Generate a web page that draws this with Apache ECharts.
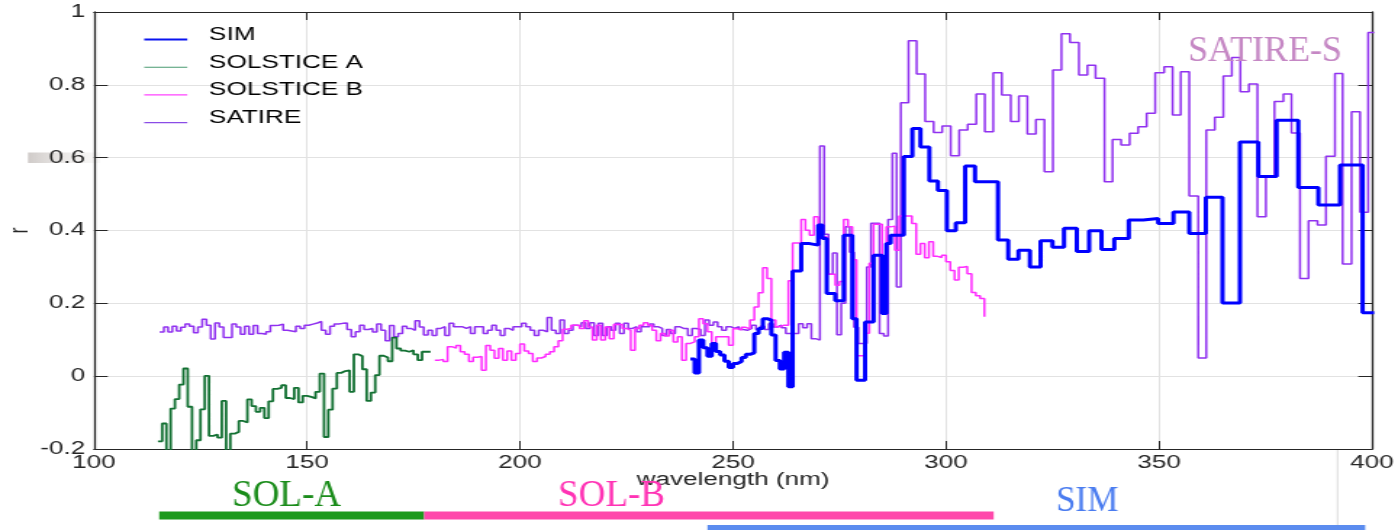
<!DOCTYPE html>
<html>
<head>
<meta charset="utf-8">
<script src="https://cdn.jsdelivr.net/npm/echarts@6.0.0/dist/echarts.min.js"></script>
<style>
html,body{margin:0;padding:0;background:#fff;}
#wrap{width:1398px;height:530px;overflow:hidden;position:relative;background:#fff;}
#c{width:964px;height:530px;transform-origin:0 0;}
</style>
</head>
<body>
<div id="wrap"><div id="c"></div></div>
<script>
// ---------------- data ----------------
const legendNames = ['SIM', 'SOLSTICE A', 'SOLSTICE B', 'SATIRE'];
const xTicks = [100, 150, 200, 250, 300, 350, 400];

// SOLSTICE A: 1-nm bins starting at 115 nm (last entry = end of last bin)
const solAStart = 115;
const solAY = [-0.179,-0.13,-0.25,-0.089,-0.063,-0.023,0.021,-0.084,-0.25,-0.176,
  -0.091,0.001,-0.164,-0.16,-0.169,-0.068,-0.25,-0.158,-0.153,-0.123,
  -0.127,-0.064,-0.082,-0.098,-0.087,-0.115,-0.069,-0.035,-0.032,-0.025,
  -0.06,-0.063,-0.032,-0.072,-0.054,-0.057,-0.061,-0.043,0.007,-0.167,
  -0.092,-0.034,0.009,0.014,0.016,-0.043,0.06,0.055,0.019,-0.068,
  -0.045,0.003,0.056,0.051,0.041,0.106,0.076,0.07,0.067,0.071,
  0.06,0.044,0.067,0.067,0.067];

// SOLSTICE B: 1-nm bins starting at 180 nm
const solBStart = 180;
const solBY = [0.044,0.046,0.04,0.081,0.077,0.084,0.067,0.06,0.04,0.052,
  0.054,0.016,0.084,0.071,0.049,0.076,0.044,0.069,0.044,0.062,
  0.088,0.069,0.062,0.04,0.05,0.054,0.06,0.067,0.081,0.097,
  0.129,0.131,0.14,0.14,0.131,0.152,0.135,0.099,0.14,0.099,
  0.135,0.103,0.142,0.142,0.131,0.126,0.071,0.131,0.14,0.147,
  0.14,0.126,0.097,0.117,0.11,0.126,0.094,0.108,0.044,0.09,
  0.094,0.108,0.158,0.144,0.122,0.08,0.108,0.108,0.108,0.085,
  0.13,0.127,0.134,0.13,0.154,0.19,0.229,0.298,0.268,0.154,
  0.136,0.14,0.14,0.262,0.366,0.366,0.43,0.401,0.387,0.438,
  0.383,0.383,0.28,0.28,0.25,0.26,0.43,0.41,0.32,0.056,
  0.056,0.118,0.31,0.417,0.417,0.172,0.41,0.412,0.346,0.44,
  0.44,0.44,0.419,0.335,0.364,0.325,0.369,0.329,0.326,0.332,
  0.314,0.29,0.264,0.299,0.301,0.281,0.23,0.221,0.213,0.163];

// SATIRE: 1-nm bins from 115.4 nm, then ~2-nm bins
const satFineStart = 115.4;
const satFineY = [0.121,0.135,0.121,0.137,0.124,0.134,0.143,0.137,0.119,0.135,
  0.156,0.14,0.102,0.146,0.135,0.106,0.106,0.143,0.135,0.115,
  0.137,0.115,0.139,0.117,0.115,0.122,0.139,0.14,0.143,0.126,
  0.124,0.122,0.137,0.131,0.14,0.143,0.146,0.15,0.126,0.115,
  0.137,0.143,0.145,0.146,0.128,0.108,0.122,0.14,0.128,0.131,
  0.121,0.143,0.126,0.097,0.139,0.108,0.117,0.137,0.131,0.126,
  0.152,0.135,0.113,0.126,0.112,0.131,0.136,0.112,0.145,0.136,
  0.136,0.131,0.136,0.117,0.136,0.136,0.117,0.126,0.14,0.126,
  0.112,0.131,0.126,0.136,0.136,0.145,0.136,0.126,0.112,0.126,
  0.122,0.161,0.126,0.117,0.154,0.117,0.126,0.14,0.136,0.147,
  0.131,0.147,0.112,0.145,0.112,0.136,0.126,0.145,0.117,0.145,
  0.131,0.136,0.122,0.136,0.136,0.143,0.136,0.131,0.112,0.128,
  0.117,0.136,0.131,0.131,0.112,0.131,0.128,0.112,0.154,0.14,
  0.149,0.136,0.126,0.136,0.131,0.136,0.128,0.126,0.131,0.14,
  0.128,0.137,0.128,0.144,0.135,0.14,0.133,0.117,0.117,0.117,
  0.144,0.133,0.144,0.103,0.099,0.632,0.39,0.28,0.338,0.114,
  0.2,0.41,0.34,0.134,0.09,0.09,0.3,0.42,0.42,0.117,
  0.11,0.43,0.612,0.245];
const satCoarseX = [289.4,291.2,293.1,295.1,297.1,299.1,301.1,303.1,305.1,307.1,
  309.1,311.1,313.1,315.2,317.1,319.1,321.1,323.1,325.1,327.1,
  329.1,331.2,333.2,335.1,337.2,339.1,341.1,343.1,345.1,347.1,
  349.1,351.2,353.2,355.1,357.1,359.2,361.1,363.1,365.1,367.1,
  369.1,371.1,373.1,375.1,377.1,379.2,381.1,383.1,385.1,387.2,
  389.2,391.3,393.1,395.2,397.2,399.1,400.5];
const satCoarseY = [0.751,0.921,0.83,0.699,0.669,0.687,0.605,0.676,0.692,0.775,
  0.671,0.833,0.772,0.699,0.769,0.665,0.705,0.561,0.841,0.94,
  0.916,0.827,0.854,0.818,0.534,0.65,0.635,0.667,0.685,0.722,
  0.833,0.85,0.717,0.836,0.495,0.05,0.676,0.711,0.824,0.875,
  0.781,0.802,0.438,0.546,0.754,0.775,0.668,0.268,0.427,0.415,
  0.604,0.831,0.308,0.726,0.45,0.944,0.944];

// SIM: 1-nm bins from 240 nm, then coarse bins
const simFineStart = 240;
const simFineY = [0.047,0.009,0.099,0.078,0.055,0.09,0.068,0.058,0.041,0.024,
  0.035,0.04,0.051,0.06,0.064,0.117,0.131,0.158,0.154,0.113,
  0.043,0.02,0.066,-0.029,0.289,0.289,0.364,0.364,0.362,0.36,
  0.415,0.378,0.227,0.227,0.207,0.207,0.387,0.387,0.158,-0.011,
  -0.011,0.149,0.149,0.332,0.332,0.172,0.364,0.387,0.387,0.387];
const simCoarseX = [290.1,292.1,294,296.1,298.1,300.2,302.3,304.5,306.8,312.2,
  314.6,317,319.7,322.2,325,327.7,330.7,333.6,336.5,339.5,
  342.9,346.3,349.8,353.4,357.1,361,364.9,369,373.3,377.6,
  382.7,387.4,392.5,397.8,400.5];
const simCoarseY = [0.603,0.68,0.629,0.536,0.51,0.399,0.421,0.577,0.534,0.374,
  0.321,0.346,0.3,0.372,0.354,0.406,0.342,0.399,0.348,0.378,
  0.429,0.433,0.419,0.451,0.392,0.491,0.201,0.643,0.548,0.703,
  0.518,0.47,0.58,0.174,0.174];

// instrument ranges shown under the axis
const bandNames = ['SOL-A', 'SOL-B', 'SIM'];
const bandStart = [115.3, 177.5, 244];
const bandEnd = [177.5, 311.2, 398.4];

// ---------------- layout / build ----------------
const S = 1398 / 964;   // horizontal stretch of the original figure
document.getElementById('c').style.transform = 'scaleX(' + S + ')';
const FF = '"Liberation Sans", Arial, sans-serif';
const SERIF = '"Liberation Serif", "Times New Roman", serif';

function regular(start, ys) { return ys.map((y, i) => [start + i, y]); }
function pairs(xs, ys) { return xs.map((x, i) => [x, ys[i]]); }

const simData = regular(simFineStart, simFineY).concat(pairs(simCoarseX, simCoarseY));
const solAData = regular(solAStart, solAY);
const solBData = regular(solBStart, solBY);
const satData = regular(satFineStart, satFineY).concat(pairs(satCoarseX, satCoarseY));

const axisColor = '#262626';
const gridColor = '#e2e2e2';

const chart = echarts.init(document.getElementById('c'), null, {renderer: 'canvas'});

function stepSeries(name, data, color, width, z) {
  return {name: name, type: 'line', step: 'end', data: data, symbol: 'none', showSymbol: false,
    lineStyle: {color: color, width: width}, itemStyle: {color: color}, z: z, clip: true};
}

// legend samples: a short line drawn slightly below the text centre
const thinIcon = 'path://M0,0 L0.01,0 Z M0,13 L30,13 L30,14.1 L0,14.1 Z M0,18 L0.01,18 Z';
const thickIcon = 'path://M0,0 L0.01,0 Z M0,12.6 L30,12.6 L30,14.6 L0,14.6 Z M0,18 L0.01,18 Z';
const legendIconColor = ['#0a14f0', '#4a9a72', '#ff44ff', '#8a4ce6'];

const option = {
  animation: false,
  backgroundColor: '#ffffff',
  grid: {left: 94 / S, right: 26 / S, top: 12, bottom: 81, containLabel: false, outerBoundsMode: 'none'},
  legend: {
    orient: 'vertical', left: 137 / S, top: 21, itemWidth: 43 / S, itemHeight: 18, itemGap: 9.7,
    selectedMode: false,
    data: legendNames.map((n, i) => ({name: n, icon: i === 0 ? thickIcon : thinIcon,
      itemStyle: {color: legendIconColor[i], borderWidth: 0}})),
    textStyle: {fontSize: 18, color: '#000', fontFamily: FF, padding: [0, 0, 0, 10]}
  },
  xAxis: [{
    type: 'value', min: xTicks[0], max: xTicks[xTicks.length - 1], interval: 50, position: 'bottom',
    name: 'wavelength (nm)', nameLocation: 'middle', nameGap: 22, nameMoveOverlap: false,
    nameTextStyle: {fontSize: 18, color: axisColor, fontFamily: FF},
    axisLine: {onZero: false, lineStyle: {color: axisColor, width: 1.2}},
    axisTick: {inside: true, length: 8, lineStyle: {color: axisColor}},
    axisLabel: {fontSize: 18, color: axisColor, fontFamily: FF, margin: 5, showMinLabel: true, showMaxLabel: true},
    splitLine: {show: true, lineStyle: {color: gridColor, width: 1}}
  }, {
    type: 'value', min: xTicks[0], max: xTicks[xTicks.length - 1], interval: 50, position: 'top',
    axisLine: {show: true, onZero: false, lineStyle: {color: axisColor, width: 1.2}},
    axisTick: {inside: true, length: 8, lineStyle: {color: axisColor}},
    axisLabel: {show: false}, splitLine: {show: false}
  }],
  yAxis: [{
    type: 'value', min: -0.2, max: 1, interval: 0.2, position: 'left',
    name: 'r', nameLocation: 'middle', nameRotate: 90, nameGap: 42, nameMoveOverlap: false,
    nameTextStyle: {fontSize: 18, color: axisColor, fontFamily: FF},
    axisLine: {show: true, onZero: false, lineStyle: {color: axisColor, width: 1.3}},
    axisTick: {show: true, inside: true, length: 9.5, lineStyle: {color: axisColor}},
    axisLabel: {fontSize: 18, color: axisColor, fontFamily: FF, margin: 6, showMinLabel: true, showMaxLabel: true},
    splitLine: {show: true, lineStyle: {color: gridColor, width: 1}}
  }, {
    type: 'value', min: -0.2, max: 1, interval: 0.2, position: 'right',
    axisLine: {show: true, onZero: false, lineStyle: {color: axisColor, width: 1.3}},
    axisTick: {show: true, inside: true, length: 9.5, lineStyle: {color: axisColor}},
    axisLabel: {show: false}, splitLine: {show: false}
  }],
  series: [
    stepSeries('SATIRE', satData, '#9030f0', 1.5, 2),
    stepSeries('SOLSTICE A', solAData, '#127032', 1.8, 3),
    stepSeries('SOLSTICE B', solBData, '#ff2bff', 1.5, 4),
    stepSeries('SIM', simData, '#0000ff', 3, 5)
  ]
};
chart.setOption(option);

// annotations: instrument ranges and labels
const xpx = v => chart.convertToPixel({xAxisIndex: 0}, v);
const bandColor = ['#1c9a1c', '#ff48ab', '#5b8cef'];
const bandY = [511.5, 511.5, 525];
const bandH = [8, 8, 6];
const labelColor = ['#1a8c1a', '#ff33b5', '#4a7cf0'];
const labelX = [232, 558, 1056];
const labelY = [496, 496, 502];
const labelSize = [37, 37, 35];

const graphics = [];
graphics.push({
  type: 'rect', silent: true, z: 0,
  shape: {x: 28 / S, y: 152.5, width: 72 / S, height: 10.5},
  style: {fill: new echarts.graphic.LinearGradient(0, 0, 1, 0, [
    {offset: 0, color: 'rgba(150,140,135,0.45)'},
    {offset: 1, color: 'rgba(215,210,205,0.12)'}])}
});
graphics.push({
  type: 'line', silent: true, z: 0,
  shape: {x1: 1337.5 / S, y1: 450, x2: 1337.5 / S, y2: 530},
  style: {stroke: '#dcdcdc', lineWidth: 1}
});
for (let i = 0; i < bandNames.length; i++) {
  const x0 = xpx(bandStart[i]), x1 = xpx(bandEnd[i]);
  graphics.push({type: 'rect', silent: true, z: 10,
    shape: {x: x0, y: bandY[i], width: x1 - x0, height: bandH[i]},
    style: {fill: bandColor[i]}});
  graphics.push({type: 'text', silent: true, z: 11, x: labelX[i] / S, y: labelY[i], scaleX: 1 / S,
    style: {text: bandNames[i], font: labelSize[i] + 'px ' + SERIF, fill: labelColor[i],
      align: 'left', verticalAlign: 'middle'}});
}
graphics.push({type: 'text', silent: true, z: 11, x: 1188 / S, y: 52, scaleX: 1 / S,
  style: {text: 'SATIRE-S', font: '36px ' + SERIF, fill: '#c587c4', align: 'left', verticalAlign: 'middle'}});

chart.setOption({graphic: graphics});
</script>
</body>
</html>
